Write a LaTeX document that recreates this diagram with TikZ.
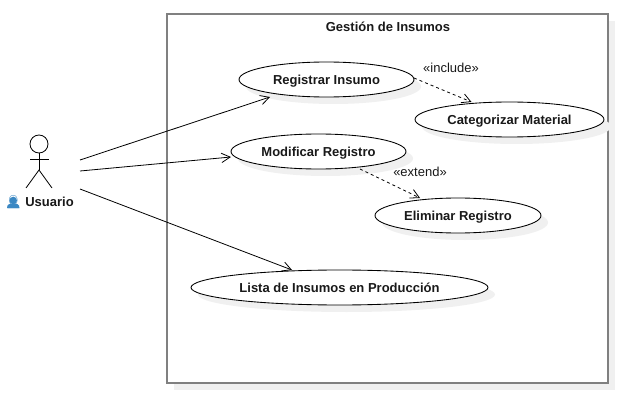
\documentclass[tikz,border=0pt]{standalone}
\usepackage{fontspec}
\setmainfont{Liberation Sans}
\newfontfamily\emojifont{Noto Emoji}
\usetikzlibrary{arrows.meta,calc,shapes.geometric}
\definecolor{softgray}{HTML}{F0F0F0}
\definecolor{framegray}{HTML}{808080}
\definecolor{bust}{HTML}{3B88C3}
\tikzset{
  usecase/.style={ellipse,draw=black,fill=white,line width=0.65pt,inner sep=0pt,outer sep=0pt,text height=9pt,text depth=2.2pt,font=\bfseries\fontsize{9.75}{12}\selectfont,text=black!90},
  shadowcase/.style={ellipse,fill=softgray,inner sep=0pt,outer sep=0pt},
  assoc/.style={draw=black,line width=0.6pt,-{Straight Barb[length=6.5pt,width=7pt,line width=0.6pt]}},
  depend/.style={assoc,dash pattern=on 2.25pt off 2.25pt},
  stereo/.style={font=\fontsize{9.75}{12}\selectfont,text=black!90,inner sep=0pt},
  stick/.style={draw=black,line width=0.6pt},
}
\begin{document}
\begin{tikzpicture}[x=0.75pt,y=-0.75pt]
\useasboundingbox (0,0) rectangle (622,403);
\fill[white] (0,0) rectangle (622,403);
% frame
\fill[softgray] (174,21) rectangle (615,390);
\node[draw=framegray,fill=white,line width=1.5pt,minimum width=330.75pt,minimum height=276.75pt,inner sep=0pt,outer sep=0pt,anchor=north west] (frame) at (167,14) {};
\node[font=\bfseries\fontsize{9.75}{12}\selectfont,text=black!90,inner sep=0pt] (title) at (388,27) {Gestión de Insumos};
% shadows
\node[shadowcase,minimum width=131.25pt,minimum height=26.25pt] (s1) at (333.5,86.5) {};
\node[shadowcase,minimum width=141.75pt,minimum height=26.25pt] (s2) at (516.5,126.5) {};
\node[shadowcase,minimum width=131.25pt,minimum height=26.25pt] (s3) at (325.5,158.5) {};
\node[shadowcase,minimum width=124.5pt,minimum height=26.25pt] (s4) at (465,222.5) {};
\node[shadowcase,minimum width=222.75pt,minimum height=26.25pt] (s5) at (346.5,294.5) {};
% use cases
\node[usecase,minimum width=131.25pt,minimum height=26.25pt] (reg) at (326.5,79.5) {Registrar Insumo};
\node[usecase,minimum width=141.75pt,minimum height=26.25pt] (cat) at (509.5,119.5) {Categorizar Material};
\node[usecase,minimum width=131.25pt,minimum height=26.25pt] (mod) at (318.5,151.5) {Modificar Registro};
\node[usecase,minimum width=124.5pt,minimum height=26.25pt] (eli) at (458,215.5) {Eliminar Registro};
\node[usecase,minimum width=222.75pt,minimum height=26.25pt] (lis) at (339.5,287.5) {Lista de Insumos en Producción};
% actor
\node[draw=black,line width=0.6pt,circle,minimum size=13.5pt,inner sep=0pt,outer sep=0pt] (head) at (39,144) {};
\coordinate (neck) at (39,170);
\coordinate (armL) at (30,159);
\coordinate (armR) at (48.5,159);
\coordinate (legL) at (26,188);
\coordinate (legR) at (52,188);
\draw[stick] (head.south) -- (neck);
\draw[stick] (armL) -- (armR);
\draw[stick] (legL) -- (neck) -- (legR);
% icon fill beneath the glyph
\fill[bust] (13.2,200.5) circle[radius=3.8];
\fill[bust] (7,208) .. controls (7,204) and (10,203.5) .. (13.2,203.5) .. controls (16.5,203.5) and (19.5,204) .. (19.5,208) -- cycle;
\node[font=\bfseries\fontsize{9.75}{12}\selectfont,text=black!90,inner sep=0pt,anchor=base] (usuario) at (39.5,206) {{\emojifont\color{bust}\symbol{"1F464}} Usuario};
% actor connectors
\coordinate (a1) at (80,160);
\coordinate (a2) at (80,171);
\coordinate (a3) at (80,189);
\draw[assoc] (a1) -- ($(reg)+(-56.5,17.5)$);
\draw[assoc] (a2) -- ($(mod)+(-87.5,5.5)$);
\draw[assoc] (a3) -- ($(lis)+(-47.5,-17.5)$);
% dependencies
\draw[depend] ($(reg)+(87.5,-1.5)$) -- ($(cat)+(-38,-17.5)$);
\draw[depend] ($(mod)+(41.5,17.5)$) -- ($(eli)+(-38,-17.5)$);
\node[stereo] (inc) at (451,68) {«include»};
\node[stereo] (ext) at (420,172) {«extend»};
\end{tikzpicture}
\end{document}
